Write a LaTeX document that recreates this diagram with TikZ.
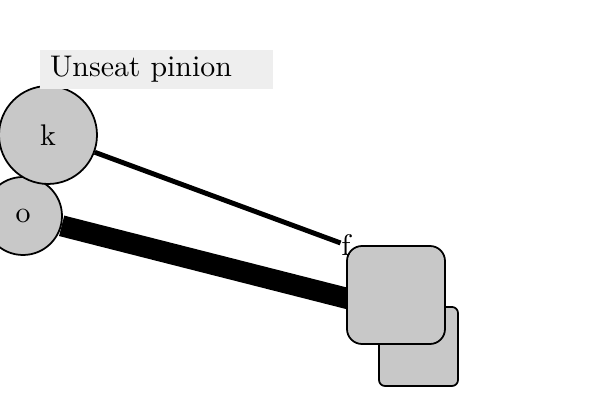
\documentclass[tikz,border=0pt]{standalone}
\usepackage{tikz}
\usepackage{graphicx}
\usetikzlibrary{shapes.geometric,arrows,positioning,backgrounds}
\definecolor{partgray}{HTML}{C8C8C8}
\definecolor{notegray}{HTML}{EEEEEE}
\newcommand{\bigtxt}[1]{\scalebox{1.7}{#1}}

\begin{document}
\begin{tikzpicture}[auto, line width=1pt]
   \useasboundingbox (0,0) rectangle (12,8);
   \begin{scope}[every node/.style={draw=black,fill=partgray}]
    \node (bk) [rectangle, rounded corners=0.12cm, minimum size=1.58cm] at (8.37,1.07) {};
    \node (sq) [rectangle, rounded corners=0.3cm, minimum size=1.96cm] at (7.92,2.10) {};
    \node (o) [circle, inner sep=0pt, minimum size=1.56cm] at (0.46,3.68) {\bigtxt{o}};
    \node (k) [circle, inner sep=0pt, minimum size=1.96cm] at (0.96,5.30) {\bigtxt{k}};
   \end{scope}
   \node (f) [inner sep=0pt] at (6.92,3.10) {\bigtxt{f}};
   \coordinate (sqin) at (7.30,1.94);
   \begin{scope}[on background layer, every edge/.style={draw=black}]
    \draw (k) edge [line width=2.8pt] (f);
    \draw (o) edge [line width=12pt] (sqin);
   \end{scope}
   \node (note) [fill=notegray, text width=4.26cm, minimum height=0.78cm, inner xsep=0.2cm, inner ysep=0.05cm, align=left] at (3.13,6.61) {\bigtxt{Unseat pinion}};
\end{tikzpicture}
\end{document}
